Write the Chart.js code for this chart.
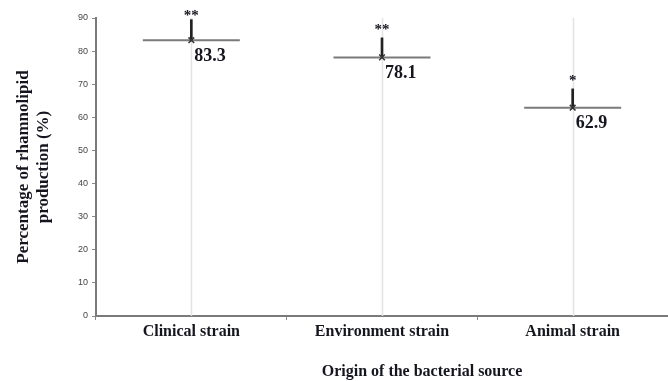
<!DOCTYPE html>
<html>
  <head>
    <style>
      body { margin: 0; background: #fff; }
      #chart-holder { width: 668px; height: 381px; }
    </style>
  </head>
  <body>
    <div id="chart-holder">
        <canvas id="chart-area"></canvas>
    </div>

    <script src="https://cdn.jsdelivr.net/npm/chart.js@4/dist/chart.umd.min.js"></script>
    <script>
        // data
        var categories = ['Clinical strain', 'Environment strain', 'Animal strain'];
        var means = [83.3, 78.1, 62.9];
        var upperBars = [89.5, 84, 68.6];
        var stars = ['**', '**', '*'];
        var yTicks = [0, 10, 20, 30, 40, 50, 60, 70, 80, 90];

        var serif = '"Liberation Serif", "Times New Roman", serif';

        // gray lines through the categories, labels and asterisks
        var extras = {
            id: 'extras',
            beforeDatasetsDraw: function(chart) {
                var ctx = chart.ctx, x = chart.scales.x, area = chart.chartArea;
                ctx.save();
                ctx.strokeStyle = '#e2e2e2';
                ctx.lineWidth = 1.5;
                for (var i = 0; i < categories.length; i++) {
                    var px = Math.round(x.getPixelForValue(i)) + 0.5;
                    ctx.beginPath();
                    ctx.moveTo(px, area.top);
                    ctx.lineTo(px, area.bottom);
                    ctx.stroke();
                }
                ctx.restore();
            },
            afterDraw: function(chart) {
                var ctx = chart.ctx, x = chart.scales.x, y = chart.scales.y;
                ctx.save();
                ctx.fillStyle = '#15151f';
                for (var i = 0; i < categories.length; i++) {
                    var px = x.getPixelForValue(i);
                    ctx.font = 'bold 18px ' + serif;
                    ctx.textAlign = 'left';
                    ctx.textBaseline = 'middle';
                    ctx.fillText(means[i].toFixed(1), px + 3, y.getPixelForValue(means[i]) + 16);
                    ctx.font = 'bold 15px ' + serif;
                    ctx.textAlign = 'center';
                    ctx.textBaseline = 'middle';
                    ctx.fillText(stars[i], px, Math.max(y.getPixelForValue(upperBars[i]) - 8, 16));
                }
                ctx.font = 'bold 16px ' + serif;
                ctx.textAlign = 'center';
                ctx.textBaseline = 'middle';
                ctx.fillText('Origin of the bacterial source', 422, 372);
                ctx.restore();
            }
        };

        var ctx = document.getElementById('chart-area').getContext('2d');
        var chart = new Chart(ctx, {
            type: 'bar',
            data: {
                labels: categories,
                datasets: [{
                    // error bars, mean up to upper value
                    label: 'error',
                    data: means.map(function(m, i) { return [m, upperBars[i]]; }),
                    backgroundColor: '#222',
                    barThickness: 2,
                    order: 3
                }, {
                    // mean line
                    type: 'line',
                    label: 'mean',
                    data: means,
                    showLine: false,
                    clip: false,
                    pointStyle: 'line',
                    pointRadius: 48.5,
                    pointBorderWidth: 2,
                    pointBorderColor: '#7a7a7a',
                    order: 2
                }, {
                    // mean marker
                    type: 'line',
                    label: 'marker',
                    data: means,
                    showLine: false,
                    pointStyle: 'crossRot',
                    pointRadius: 4,
                    pointBorderWidth: 1.5,
                    pointBorderColor: '#333',
                    order: 1
                }]
            },
            options: {
                responsive: true,
                maintainAspectRatio: false,
                animation: false,
                layout: { autoPadding: false, padding: { top: 18, right: 0, left: 0, bottom: 0 } },
                plugins: {
                    legend: { display: false },
                    tooltip: { enabled: false }
                },
                scales: {
                    x: {
                        offset: true,
                        grid: {
                            display: true,
                            offset: true,
                            drawOnChartArea: false,
                            tickLength: 4,
                            color: '#888'
                        },
                        border: { color: '#7a7a7a', width: 2 },
                        ticks: {
                            color: '#15151f',
                            font: { family: serif, size: 16, weight: 'bold' },
                            padding: 2
                        },
                        afterFit: function(scale) { scale.height = 65; }
                    },
                    y: {
                        min: 0,
                        max: 90,
                        afterBuildTicks: function(scale) {
                            scale.ticks = yTicks.map(function(v) { return { value: v }; });
                        },
                        grid: {
                            drawOnChartArea: false,
                            tickLength: 4,
                            color: '#888'
                        },
                        border: { color: '#7a7a7a', width: 2 },
                        ticks: {
                            color: '#444',
                            font: { family: '"Liberation Sans", Arial, sans-serif', size: 9 },
                            padding: 4
                        },
                        title: {
                            display: true,
                            text: ['Percentage of rhamnolipid', 'production (%)'],
                            color: '#15151f',
                            font: { family: serif, size: 17, weight: 'bold' },
                            padding: { top: 13, bottom: 12 }
                        },
                        afterFit: function(scale) { scale.width = 96; }
                    }
                }
            },
            plugins: [extras]
        });
    </script>
  </body>
</html>
